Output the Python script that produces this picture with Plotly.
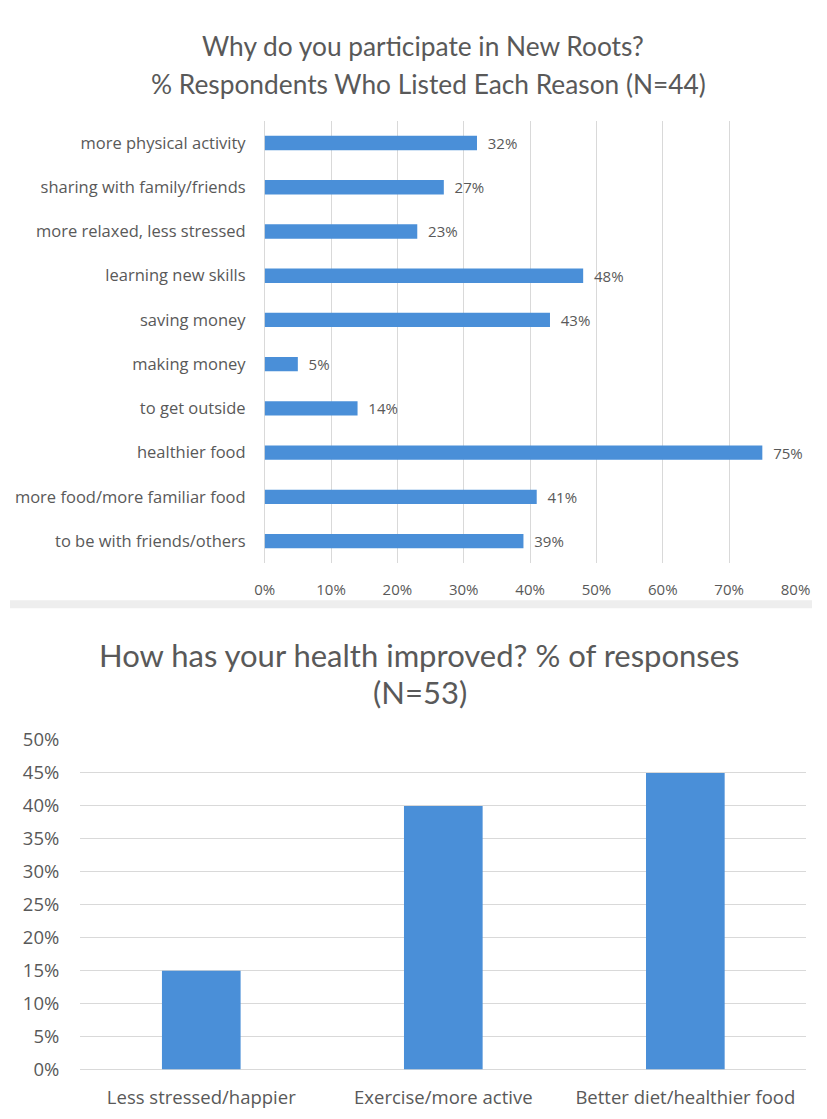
import plotly.graph_objects as go

# ---- data: top chart ----
reasons = [
    "more physical activity",
    "sharing with family/friends",
    "more relaxed, less stressed",
    "learning new skills",
    "saving money",
    "making money",
    "to get outside",
    "healthier food",
    "more food/more familiar food",
    "to be with friends/others",
]
reason_pct = [0.32, 0.27, 0.23, 0.48, 0.43, 0.05, 0.14, 0.75, 0.41, 0.39]
top_ticks = [0, 0.1, 0.2, 0.3, 0.4, 0.5, 0.6, 0.7, 0.8]

# ---- data: bottom chart ----
health = ["Less stressed/happier", "Exercise/more active", "Better diet/healthier food"]
health_pct = [0.15, 0.40, 0.45]
bottom_ticks = [0, 0.05, 0.1, 0.15, 0.2, 0.25, 0.3, 0.35, 0.4, 0.45, 0.5]

W, H = 827, 1119
TFONT = "Lato"
LFONT = "Open Sans"
GREY = "#595959"
BLUE = "#4a8fd8"
GRID = "#d9d9d9"

# the photographed page shows the figure slightly inset and scaled;
# convert target picture pixels into figure pixels
AX, BX = 0.973, 9.5
AY, BY = 0.979, 13.0

def px(r):
    return ((r - BX) / AX) / W

def py(r):
    return 1 - ((r - BY) / AY) / H

fig = go.Figure()

fig.add_trace(go.Bar(
    x=reason_pct, y=reasons, orientation="h",
    marker=dict(color=BLUE, line=dict(width=0)),
    text=[f"  {round(v*100)}%" for v in reason_pct],
    textposition="outside", cliponaxis=False, constraintext="none",
    textfont=dict(family=LFONT, size=15, color=GREY),
    xaxis="x", yaxis="y", hoverinfo="skip",
))

fig.add_trace(go.Bar(
    x=health, y=health_pct,
    marker=dict(color=BLUE, line=dict(width=0)),
    xaxis="x2", yaxis="y2", hoverinfo="skip",
))

fig.update_layout(
    width=W, height=H,
    margin=dict(l=0, r=0, t=0, b=0),
    paper_bgcolor="white", plot_bgcolor="white",
    showlegend=False,
    bargap=0.675,
    font=dict(family=LFONT, color=GREY),
    xaxis=dict(
        # right end kept so the last tick label stays inside the page
        domain=[px(265), 810 / W], range=[0, 0.8],
        tickvals=top_ticks, ticktext=[f"{round(t*100)}%" for t in top_ticks],
        showgrid=True, gridcolor=GRID, gridwidth=1,
        zeroline=True, zerolinecolor=GRID, zerolinewidth=1,
        showline=False, ticks="",
        tickfont=dict(family=LFONT, size=15, color=GREY),
        ticklabelstandoff=16, anchor="y", fixedrange=True,
    ),
    yaxis=dict(
        domain=[py(563), py(120)],
        categoryorder="array", categoryarray=reasons, autorange="reversed",
        showgrid=False, zeroline=False, showline=False, ticks="",
        tickfont=dict(family=LFONT, size=16.5, color=GREY),
        ticklabelstandoff=18, anchor="x", fixedrange=True,
    ),
    xaxis2=dict(
        domain=[px(80), px(808.5)],
        showgrid=False, zeroline=False, showline=False, ticks="",
        tickfont=dict(family=LFONT, size=18.5, color=GREY),
        ticklabelstandoff=15, anchor="y2", fixedrange=True,
    ),
    yaxis2=dict(
        domain=[py(1070), py(740)], range=[0, 0.5],
        tickvals=bottom_ticks, ticktext=[f"{round(t*100)}%" for t in bottom_ticks],
        showgrid=True, gridcolor=GRID, gridwidth=1,
        zeroline=True, zerolinecolor=GRID, zerolinewidth=1,
        showline=False, ticks="",
        tickfont=dict(family=LFONT, size=18.5, color=GREY),
        ticklabelstandoff=20, anchor="x2", fixedrange=True,
    ),
    annotations=[
        dict(text="Why do you participate in New Roots?",
             x=px(423.5), y=py(45), xref="paper", yref="paper",
             xanchor="center", yanchor="middle", showarrow=False,
             font=dict(family=TFONT, size=26.3, color=GREY)),
        dict(text="% Respondents Who Listed Each Reason (N=44)",
             x=px(429.5), y=py(83), xref="paper", yref="paper",
             xanchor="center", yanchor="middle", showarrow=False,
             font=dict(family=TFONT, size=26.3, color=GREY)),
        dict(text="How has your health improved? % of responses",
             x=px(420), y=py(655), xref="paper", yref="paper",
             xanchor="center", yanchor="middle", showarrow=False,
             font=dict(family=TFONT, size=31, color=GREY)),
        dict(text="(N=53)",
             x=px(421), y=py(692), xref="paper", yref="paper",
             xanchor="center", yanchor="middle", showarrow=False,
             font=dict(family=TFONT, size=31, color=GREY)),
    ],
    shapes=[
        dict(type="rect", xref="paper", yref="paper", x0=0, x1=1, y0=py(608), y1=py(600),
             fillcolor="#eeeeee", line=dict(width=0), layer="below"),
    ],
)

fig.write_html(
    "out.html",
    config={"displayModeBar": False},
    post_script="document.body.style.margin='0px';document.body.style.overflow='hidden';",
)
